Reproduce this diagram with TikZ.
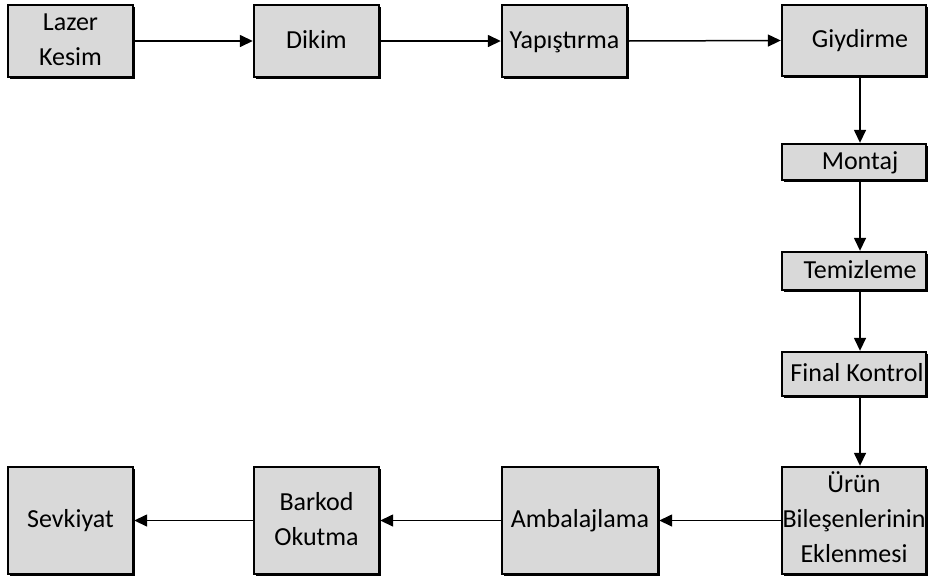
\documentclass[tikz,border=0pt]{standalone}
\usepackage{fontspec}
\setmainfont{Carlito}
\usetikzlibrary{arrows.meta,shadows}
\definecolor{boxfill}{RGB}{217,217,217}
\newcommand{\stagefont}{\fontsize{26}{35}\selectfont}
\tikzset{
  stage/.style={draw=black, line width=2.4pt, fill=boxfill, inner sep=0pt,
    drop shadow={shadow xshift=1.6pt, shadow yshift=-1.6pt, fill=black, opacity=1},
    align=center, font=\stagefont},
  label text/.style={inner sep=0pt, align=center, font=\stagefont},
  flow/.style={line width=1.5pt, -{Triangle[length=13pt,width=12pt]}}
}
\begin{document}
\begin{tikzpicture}[x=1pt,y=-1pt]
\useasboundingbox (0,0) rectangle (928,579);
\fill[white] (0,0) rectangle (928,579);

% top row
\node[stage, minimum width=125pt, minimum height=72pt] (lazer) at (70.5,41) {\strut Lazer\\Kesim\strut};
\node[stage, minimum width=125pt, minimum height=72pt] (dikim) at (316.5,41) {\strut Dikim};
\node[stage, minimum width=125pt, minimum height=72pt] (yap) at (564.5,41) {\strut Yapıştırma};

% right column frames
\node[stage, minimum width=144pt, minimum height=71pt] (giy) at (854,40.5) {};
\node[stage, minimum width=144pt, minimum height=36pt] (mon) at (854,162) {};
\node[stage, minimum width=144pt, minimum height=38pt] (tem) at (854,271) {};
\node[stage, minimum width=144pt, minimum height=44pt] (fin) at (854,374) {};
\node[stage, minimum width=144pt, minimum height=107pt] (urun) at (854,520.5) {};

% right column labels, centred a little right of their frames
\node[label text] (giyt) at (860,40.5) {\strut Giydirme};
\node[label text] (mont) at (860,162) {\strut Montaj};
\node[label text] (temt) at (860,271) {\strut Temizleme};
\node[label text] (fint) at (857,374) {\strut Final Kontrol};
\node[label text] (urunt) at (854,520.5) {\strut Ürün\\Bileşenlerinin\\Eklenmesi\strut};

% bottom row
\node[stage, minimum width=156pt, minimum height=107pt] (amb) at (580,520.5) {\strut Ambalajlama};
\node[stage, minimum width=125pt, minimum height=107pt] (bar) at (316.5,520.5) {\strut Barkod\\Okutma\strut};
\node[stage, minimum width=125pt, minimum height=107pt] (sev) at (70.5,520.5) {\strut Sevkiyat};

% connectors (vertical ones run at x = 860)
\draw[flow] (lazer.east) -- (dikim.west);
\draw[flow] (dikim.east) -- (yap.west);
\draw[flow] (yap.east) -- (giy.west);
\draw[flow] (giy.south -| giyt) -- (mon.north -| giyt);
\draw[flow] (mon.south -| mont) -- (tem.north -| mont);
\draw[flow] (tem.south -| temt) -- (fin.north -| temt);
\draw[flow] (fin.south -| temt) -- (urun.north -| temt);
\draw[flow] (urun.west) -- (amb.east);
\draw[flow] (amb.west) -- (bar.east);
\draw[flow] (bar.west) -- (sev.east);
\end{tikzpicture}
\end{document}
